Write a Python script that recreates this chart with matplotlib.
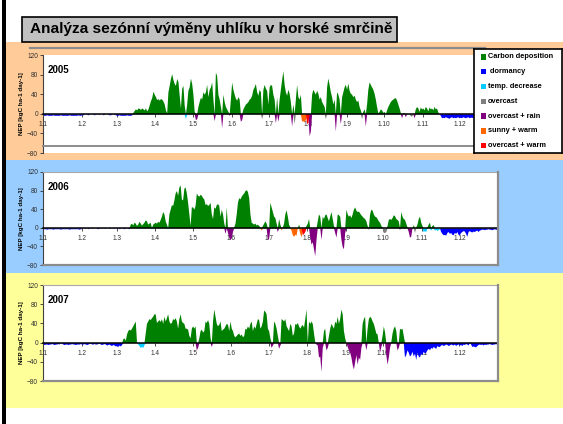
import numpy as np
import matplotlib
matplotlib.use("Agg")
import matplotlib.pyplot as plt
from matplotlib.patches import Rectangle

# ---------------------------------------------------------------- data
month_starts = [0, 31, 59, 90, 120, 151, 181, 212, 243, 273, 304, 334]
month_labels = ["1.1", "1.2", "1.3", "1.4", "1.5", "1.6",
                "1.7", "1.8", "1.9", "1.10", "1.11", "1.12"]
y_ticks = [-80, -40, 0, 40, 80, 120]

categories = ["Carbon deposition", " dormancy", "temp. decrease", "overcast",
              "overcast + rain", "sunny + warm", "overcast + warm"]
cat_colors = ["#008000", "#0000FF", "#00CCFF", "#808080",
              "#800080", "#FF6600", "#FF0000"]

# daily NEP [kgC ha-1 day-1], one line per month
nep_2005 = [
    -3, -3, -3, -2, -3, -3, -3, -3, -2, -3, -3, -3, -3, -3, -2, -3, -3, -3, -3, -3, -3, -2, -3, -3, -3, -3, -3, -3, -2, -3, -3,
    -2, -2, -1, 0, -1, -2, -1, 0, 0, -1, -2, -1, 0, -1, -1, 0, 0, -2, -1, 0, 0, -1, -2, -2, -1, 0, -1, -2,
    -3, -3, -2, -3, -3, -3, -3, -3, -2, -3, -3, -3, -2, 3, 7, 10, 8, 12, 11, 9, 12, 10, 8, 12, 6, 10, 18, 27, 33, 46, 40,
    35, 29, 31, 28, 31, 30, 26, 20, 8, 2, 45, 58, 72, 82, 70, 62, 58, 72, 66, 38, 12, 52, 58, 18, -10, 20, 48, 55, 73, 62,
    40, 5, -12, -10, 15, 25, 34, 30, 45, 40, 45, 60, 35, 50, 55, 65, 30, -14, 85, 78, 40, 30, 15, -28, 40, 25, 15, 10, 5, -3, 30,
    65, 50, 40, 32, 28, 35, 30, -15, -12, 10, 15, 20, 22, 25, 30, 32, 38, 50, 55, 62, 45, 38, 50, 45, -10, 50, 60, 52, 48, 20,
    55, 60, 58, 40, 30, -18, 35, -15, 30, 50, 70, 88, 60, 45, 38, 50, 42, 25, -25, 20, -20, 30, 60, 35, 30, 40, -15, -14, -16, -12, -20,
    -18, -45, -35, 40, 50, 45, 40, 48, 42, 30, 35, 25, 20, 15, -10, 55, 73, 60, 45, 35, 20, 30, -35, 45, 40, 30, -20, 35, 45, 55, 60,
    50, 63, 48, 42, 40, 35, 38, 30, 25, 28, 15, 8, -10, 5, 10, -25, 20, 50, 65, 60, 55, 50, 42, 30, 15, 2, 5, 10, 8, 3,
    5, 0, 8, 15, 20, 25, 28, 30, 32, 33, 28, 20, 12, 3, -8, 2, 3, -6, 2, 0, 1, -4, -5, 1, -8, 10, 15, 12, 5, 14, 10,
    12, 8, 15, 12, 6, 14, 10, 12, 8, 15, 10, 12, 4, 0, -3, -8, -7, -8, -6, -7, -8, -9, -7, -6, -8, -7, -8, -7, -6, -8,
    -7, -8, -6, -7, -8, -7, -6, -8, -7, -7, -8, -6, -7, -8, -7, -6, -7, -8, -7, -6, -7, -8, -7, -7, -6, -8, -7, -6, -7, -8, -7,
]

nep_2006 = [
    -2, -2, -2, -3, -2, -2, -2, -2, -3, -2, -2, -2, -2, -2, -3, -2, -2, -2, -2, -2, -2, -3, -2, -2, -2, -2, -2, -2, -2, -3, -2,
    -1, 0, -1, -1, 0, -2, -1, 0, -1, -1, 0, 0, -1, -2, -1, 0, -1, 0, -1, -1, 0, 0, -1, -1, 0, -1, -1, 0,
    -1, 0, -2, -1, 0, -1, -2, -1, 0, -1, -2, 8, 10, 6, 12, 10, 5, 8, 14, 10, 6, 9, 12, 17, 15, 8, 10, 12, -2, 8, 10,
    12, 10, 14, 12, 18, 25, 35, 30, 15, 8, -2, 30, 40, 50, 48, 60, 75, 80, 70, 88, 92, 62, 60, 85, 88, 75, 55, 30, 5, 45,
    45, 40, 48, 75, 70, 68, 72, 70, 65, 62, 50, 52, 48, 50, 55, 30, 20, 45, 42, 50, 52, 48, 25, 40, 30, 10, -12, 45, -10, -20, -25,
    -22, -8, 2, 10, 30, 55, 65, 62, 68, 72, 75, 80, 82, 78, 65, 30, 12, 10, 8, 10, 6, 8, 5, 2, -5, 5, 10, 15, 10, -25,
    -22, 55, 45, 35, 25, 22, 10, -8, 20, 8, -4, 2, 10, 30, 39, 25, 8, 2, -5, -15, -18, -14, -16, 0, 8, -12, -20, -15, -12, -8, 5,
    10, 20, -20, -35, -30, -45, -60, -25, 15, 30, 25, -25, 25, 20, 28, 30, 22, 15, 25, 35, 20, 5, -10, -20, 30, 28, 25, -25, -40, -45, -10,
    40, 30, 25, 28, 22, 30, 40, 45, 38, 35, 36, 32, 28, 25, 22, 20, 15, 5, -3, 30, 40, 38, 30, 25, 24, 20, 15, 12, 5, 2,
    -10, -10, -8, 5, 18, 20, 18, 22, 28, 26, 20, 18, 15, -3, 35, 25, 20, 18, 10, 2, -8, -20, -18, 0, 7, -10, 2, 8, 20, 25, 12,
    5, -8, -6, -8, 2, 8, 12, -5, 5, 7, -5, -3, -6, -4, -2, -8, -12, -15, -14, -16, -10, -8, -12, -10, -14, -15, -10, -12, -8, -14,
    -15, -10, -8, -6, -7, -12, -18, -8, -6, -8, -9, -7, -8, -6, -5, -8, -5, -4, -3, -3, -4, -3, -3, -2, -3, -3, -4, -3, -2, -3, -3,
]

nep_2007 = [
    -3, -4, -3, -3, -4, -3, -3, -2, -3, -4, -3, -3, -2, -3, 1, -2, -3, -4, -3, -3, -4, -3, -3, -2, -3, -3, -4, -3, -3, -3, -2,
    -3, -3, -2, -3, -4, -3, -2, -1, -3, -3, -2, -3, -3, -2, -1, -3, -4, -3, -2, -3, -5, -4, -3, -5, -6, -4, -5, -7,
    -6, -8, -5, -7, -4, 8, 10, 5, 18, 25, 28, 26, 30, 35, 40, 45, 2, -3, -6, -10, -8, -10, -4, 20, 40, 45, 50, 48, 52, 55, 60,
    60, 42, 45, 48, 44, 50, 40, 55, 45, 52, 60, 45, 40, 42, 50, 48, 52, 45, 30, 50, 60, 45, 42, 40, 30, 30, 28, 15, 10, 30,
    35, 30, 35, -15, -10, 10, 25, 28, 22, 25, 45, 42, 48, 40, 10, -8, 45, 70, 55, 40, 35, 38, 45, 25, 28, 30, 35, 40, 38, 25, 45,
    30, 25, 15, 12, 15, 18, 20, 15, 18, 12, 15, 30, 28, 35, 30, 40, 45, 25, 35, 30, 40, 50, 48, 30, 35, 45, 68, 65, 60, 30,
    25, 10, -10, -5, 45, 40, 30, 15, -12, -5, 50, 48, 45, 50, 35, 30, 25, 40, 35, 15, 20, 40, 38, 42, 35, 30, 35, 38, 32, 50, 70,
    -3, 45, 40, 45, 40, 20, 2, -3, -5, -30, -28, -60, -10, 25, 30, -15, -10, 15, 30, 40, 35, 30, 45, 40, 55, 40, 50, 70, 60, 25, 10,
    0, -8, -15, -20, -30, -45, -55, -40, -25, -45, -30, -35, -10, 40, 50, 55, -15, 30, 50, 55, 52, 45, 40, 30, 20, 18, 0, -20, -8, 15,
    35, 22, -25, -45, -30, -10, 2, 20, 30, 35, 25, -15, -10, 30, 28, 30, 15, -30, -25, -15, -20, -28, -25, -18, -28, -22, -35, -20, -28, -30, -22,
    -25, -18, -22, -20, -15, -12, -15, -10, -12, -8, -10, -12, -6, -8, -8, -5, -4, -6, -5, -3, -4, -6, -5, -3, -4, -5, -3, -6, -4, -3,
    -5, -4, -6, -3, -4, -2, -3, -5, 2, -3, -8, -7, -8, -9, -6, -4, -3, -4, -3, -5, -3, -4, -3, -3, -2, -3, -4, -3, -3, -2, -3,
]

# day ranges (first, last day of year) of the loss-causing conditions;
# any other negative day is dormancy, positive days are carbon deposition
events_2005 = {
    "temp. decrease": [(114, 114)],
    "overcast": [(175, 175), (201, 201), (226, 226), (255, 255), (294, 295)],
    "overcast + rain": [(122, 123), (137, 137), (143, 143), (149, 149), (158, 159),
                        (186, 186), (188, 188), (199, 199), (213, 214), (234, 234),
                        (238, 238), (258, 258), (287, 287), (290, 290), (297, 297)],
    "sunny + warm": [(207, 210)],
    "overcast + warm": [(211, 212)],
}
events_2006 = {
    "temp. decrease": [(87, 87), (100, 100), (305, 307), (311, 311), (314, 318)],
    "overcast": [(261, 261), (273, 275), (298, 298)],
    "overcast + rain": [(146, 146), (148, 152), (180, 181), (188, 188), (214, 219),
                        (223, 223), (234, 235), (239, 242), (286, 286), (293, 295)],
    "sunny + warm": [(175, 175), (191, 191), (199, 203), (206, 207)],
    "overcast + warm": [(208, 210)],
}
events_2007 = {
    "temp. decrease": [(76, 81)],
    "overcast": [(212, 212)],
    "overcast + rain": [(123, 124), (135, 135), (183, 184), (189, 190), (219, 224),
                        (227, 228), (244, 255), (259, 259), (270, 271), (275, 278),
                        (284, 285)],
}

years = ["2005", "2006", "2007"]
year_data = [nep_2005, nep_2006, nep_2007]
year_events = [events_2005, events_2006, events_2007]

# ---------------------------------------------------------------- layout
W, H = 563, 424
band_colors = ["#FFCC99", "#99CCFF", "#FFFF99"]
bands = [(42, 160), (160, 273), (273, 408)]           # y-extent of each band (px)
plot_boxes = [(43, 55, 499, 153), (43, 172, 498, 265), (43, 285, 498, 381)]
PT = 0.72                                              # points per pixel at 100 dpi


def fig_rect(x0, y0, x1, y1):
    return [x0 / W, 1 - y1 / H, (x1 - x0) / W, (y1 - y0) / H]


fig = plt.figure(figsize=(W / 100, H / 100), dpi=100)
fig.patch.set_facecolor("white")

# left black border
fig.add_artist(Rectangle((2 / W, 0), 3.5 / W, 1, transform=fig.transFigure,
                         facecolor="black", edgecolor="none", zorder=-5))

for (y0, y1), c in zip(bands, band_colors):
    fig.add_artist(Rectangle((5 / W, 1 - y1 / H), (W - 5) / W, (y1 - y0) / H,
                             transform=fig.transFigure, facecolor=c,
                             edgecolor="none", zorder=-6))

# title box
fig.add_artist(Rectangle((22 / W, 1 - 42 / H), (397 - 22) / W, 25 / H,
                         transform=fig.transFigure, facecolor="#C0C0C0",
                         edgecolor="black", linewidth=1.2, zorder=3))
fig.text(30 / W, 1 - 29.5 / H, "Analýza sezónní výměny uhlíku v horské smrčině",
         ha="left", va="center", fontsize=11.1, fontweight="bold",
         family="Liberation Sans", color="black", zorder=4)

# frame line above the first chart
fig.add_artist(plt.Line2D([30 / W, 485 / W], [1 - 47.5 / H, 1 - 47.5 / H],
                          transform=fig.transFigure, color="#8C8C8C",
                          linewidth=1.6, zorder=-4))

days = np.arange(365)
cat_index = {name: i for i, name in enumerate(categories)}

for k, (year, vals, events) in enumerate(zip(years, year_data, year_events)):
    vals = np.asarray(vals, dtype=float)
    assert len(vals) == 365, (year, len(vals))

    cat = np.where(vals > 0, 0, 1)
    for name, ranges in events.items():
        for a, b in ranges:
            sel = (days >= a) & (days <= b) & (vals <= 0)
            cat[sel] = cat_index[name]

    ax = fig.add_axes(fig_rect(*plot_boxes[k]))
    ax.set_facecolor("white")
    for i, col in enumerate(cat_colors):
        series = np.where(cat == i, vals, 0.0)
        if np.any(series != 0):
            ax.fill_between(days, 0, series, color=col, linewidth=0, zorder=2)

    ax.set_xlim(0, 365)
    ax.set_ylim(-80, 120)
    ax.set_yticks(y_ticks)
    ax.set_xticks(month_starts)
    ax.set_xticklabels(month_labels)

    for s in ("top", "right"):
        ax.spines[s].set_visible(False)
    ax.spines["left"].set_color("#404040")
    ax.spines["left"].set_linewidth(0.8)
    ax.spines["bottom"].set_position(("data", 0))
    ax.spines["bottom"].set_color("black")
    ax.spines["bottom"].set_linewidth(1.1)
    ax.spines["bottom"].set_zorder(3)

    ax.tick_params(axis="y", direction="out", length=3 * PT, width=0.6,
                   pad=1.5, labelsize=4.7, colors="#303030")
    ax.tick_params(axis="x", direction="out", length=3 * PT, width=0.6,
                   pad=3.2, labelsize=4.7, colors="#303030")
    for lab in ax.get_xticklabels() + ax.get_yticklabels():
        lab.set_family("Liberation Sans")

    if k == 0:
        ax.plot([0, 431 / 456], [0.07, 0.07], transform=ax.transAxes,
                color="#8C8C8C", linewidth=1.4, zorder=4, clip_on=False)
    else:
        ax.plot([0, 1], [1, 1], transform=ax.transAxes, color="#A8A8A8",
                linewidth=0.8, clip_on=False, zorder=4)
        ax.plot([1, 1], [0, 1], transform=ax.transAxes, color="#8C8C8C",
                linewidth=1.6, clip_on=False, zorder=4)
        ax.plot([0, 1], [0, 0], transform=ax.transAxes, color="#8C8C8C",
                linewidth=1.6, clip_on=False, zorder=4)

    ax.annotate(year, xy=(0, 1), xycoords="axes fraction",
                xytext=(5 * PT, -15 * PT), textcoords="offset points",
                ha="left", va="center", fontsize=7, fontweight="bold",
                family="Liberation Sans")

    x0, y0, x1, y1 = plot_boxes[k]
    fig.text(22 / W, 1 - (y0 + y1) / 2 / H, "NEP [kgC ha-1 day-1]",
             rotation=90, ha="center", va="center", fontsize=4.5,
             fontweight="bold", family="Liberation Sans")

# legend box beside the first chart
lx0, ly0, lx1, ly1 = 474, 49, 562, 153
lax = fig.add_axes(fig_rect(lx0, ly0, lx1, ly1))
lax.set_zorder(6)
lax.set_xlim(lx0, lx1)
lax.set_ylim(ly1, ly0)
lax.set_xticks([])
lax.set_yticks([])
lax.set_facecolor("white")
for s in lax.spines.values():
    s.set_color("black")
    s.set_linewidth(1.2)
row_y = 56.8
for name, col in zip(categories, cat_colors):
    lax.add_patch(Rectangle((480.5, row_y - 2.7), 5, 5.4, facecolor=col,
                            edgecolor="none"))
    lax.text(487.5, row_y, name, ha="left", va="center", fontsize=5.3,
             fontweight="bold", family="Liberation Sans", color="black")
    row_y += 14.8

fig.savefig("out.png", dpi=100)
